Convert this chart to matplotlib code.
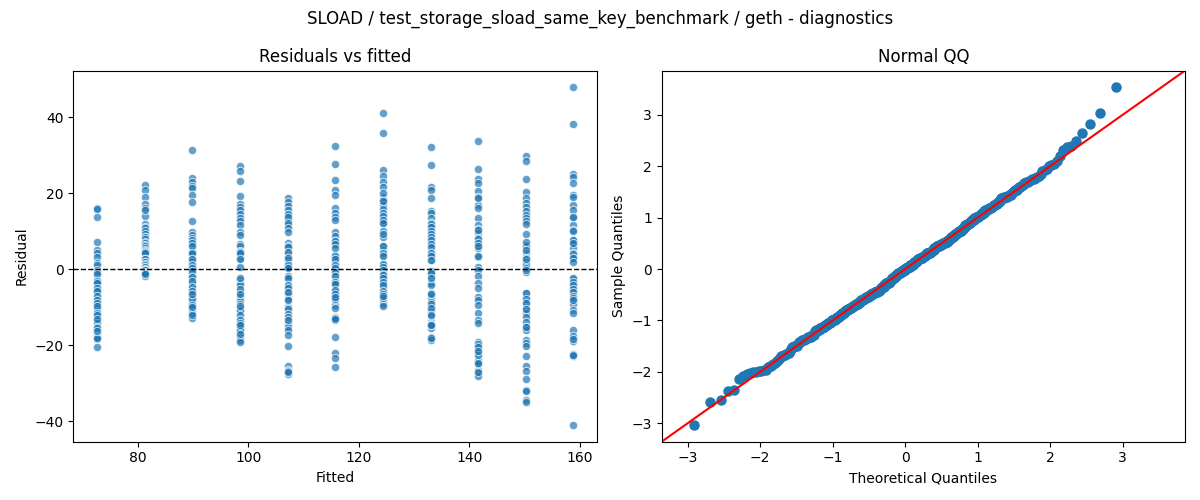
from statistics import NormalDist

import matplotlib

matplotlib.use("Agg")
import matplotlib.pyplot as plt
import numpy as np

TITLE = "SLOAD / test_storage_sload_same_key_benchmark / geth - diagnostics"

# fitted value of each group and the residuals
fitted_levels = [72.6, 81.2, 89.8, 98.5, 107.1, 115.7, 124.3, 133.0, 141.6, 150.2, 158.8]

resid_g01 = [16.2, 13.7, 7.1, 5.1, 4.2, 3.3, 1.6, 1.0, -0.2, -0.6, -2.8, -3.5, -5.0, -5.6, -6.8,
             -7.4, -8.2, -9.1, -9.8, -10.7, -11.6, -12.5, -13.3, -13.8, -15.5, -16.0, -17.3, -17.9,
             -18.4, -20.5, 15.8, -18.0, -14.2, -10.4, -6.0, -1.2, -3.1, -3.6, -5.0, -5.6, -7.0,
             -8.2, -8.8, -9.7, -11.6, -12.1, -13.2, -15.1, -15.6, -16.2]
resid_g02 = [22.2, 20.9, 19.1, 14.0, 11.9, 11.2, 10.2, 9.5, 8.4, 7.3, 5.5, 2.9, 2.0, 1.1, 0.3,
             -0.6, -1.7, 17.2, 16.2, 15.7, 10.8, 10.0, 9.2, 8.6, 8.4, 7.9, 7.3, 7.0, 6.4, 6.1,
             5.6, 5.2, 4.8, 4.6, 4.2, 2.8, 2.6, 2.0, 1.8, 1.3, 1.1, 0.6, 0.5, 0.1, -0.2, -0.3,
             -0.7, -1.0, -1.1, -1.3]
resid_g03 = [31.4, 24.1, 23.0, 21.9, 21.3, 19.6, 17.6, 12.7, 9.9, 9.0, 8.2, 7.3, 6.4, 4.9, 4.0,
             2.6, 2.0, 0.7, -0.2, -1.0, -1.8, -3.5, -4.6, -5.4, -6.3, -7.4, -9.8, -10.5, -11.1,
             -12.9, -8.8, -10.2, -11.4, -12.0, -7.8, 7.6, 6.9, 6.2, 4.4, 2.6, 1.0, 0.2, -0.5,
             -2.0, -3.2, -4.7, -5.6, -6.6, -9.3, -9.9]
resid_g04 = [27.3, 25.9, 23.2, 19.3, 17.2, 16.3, 15.6, 14.6, 13.4, 12.6, 11.7, 9.9, 9.1, 6.7, 6.0,
             4.9, 3.8, 2.9, 0.7, -2.8, -3.5, -4.2, -6.1, -7.4, -8.4, -9.1, -10.3, -11.0, -13.3,
             -14.7, -15.5, -16.4, -17.3, -17.9, -18.6, -19.3, -16.0, -17.0, -10.8, -9.6, 4.6, 4.2,
             2.6, -2.4, -5.2, -6.4, -12.0, -13.4, -14.1, -14.6]
resid_g05 = [18.9, 17.8, 16.7, 15.6, 14.3, 13.0, 11.7, 7.0, 6.2, 4.2, 3.3, 2.5, 1.6, 0.7, -2.6,
             -4.7, -5.9, -6.8, -7.9, -10.0, -10.5, -14.2, -15.1, -16.1, -17.3, -20.2, -25.6, -26.5,
             -27.5, 14.6, 13.8, 12.1, 10.9, 9.8, 5.9, 4.6, 3.0, 1.0, 0.2, -1.8, -2.4, -4.2, -5.0,
             -5.9, -8.2, -11.7, -12.5, -13.3, -26.9, -27.2]
resid_g06 = [32.5, 27.7, 23.5, 20.9, 19.6, 16.1, 14.9, 13.7, 13.0, 9.9, 8.8, 7.5, 6.4, 3.8, 2.9,
             2.0, 0.9, -0.2, -1.5, -2.8, -3.7, -5.6, -6.3, -7.6, -9.4, -12.6, -13.3, -17.9, -22.1,
             -23.4, -25.8, -12.9, -13.0, -6.0, -7.9, 7.5, 6.6, 5.6, 3.5, 2.6, 1.2, 0.3, -0.6,
             -1.8, -3.4, -4.0, -5.4, -6.5, -7.2, -10.3]
resid_g07 = [41.1, 35.8, 26.1, 24.6, 23.1, 21.8, 19.0, 18.2, 16.9, 15.8, 13.0, 12.1, 8.4, 6.0, 5.1,
             3.8, 1.1, 0.3, -1.0, -2.4, -3.5, -4.6, -5.9, -6.5, -8.5, -9.1, -9.8, 20.2, 18.0, 14.9,
             14.0, 13.0, 12.2, 10.1, 9.2, 6.1, 4.4, 3.6, 1.3, 0.6, -0.2, -1.2, -1.6, -2.4, -3.3,
             -4.2, -5.6, -6.4, -7.5, -7.0]
resid_g08 = [32.1, 27.4, 21.8, 20.9, 18.9, 15.4, 14.7, 13.4, 12.1, 11.1, 9.0, 6.8, 4.6, 3.8, 2.5,
             -1.0, -1.9, -3.5, -4.1, -7.6, -8.5, -11.1, -12.3, -14.0, -15.5, -17.9, -18.6, -18.0,
             -14.3, 12.0, 11.2, 10.2, 9.3, 8.4, 7.7, 6.7, 5.9, 4.2, 3.4, 2.5, -0.4, -1.1, -2.2,
             -6.3, -6.5, -9.2, -10.2, -12.0, -14.6, -14.6]
resid_g09 = [33.7, 26.3, 23.7, 22.8, 20.7, 16.9, 16.1, 13.4, 11.7, 10.5, 9.5, 8.2, 7.3, 6.4, 5.5,
             3.3, 0.7, -0.2, -1.8, -3.5, -5.0, -7.2, -8.1, -9.4, -11.4, -13.5, -14.2, -19.3, -20.2,
             -21.1, -22.1, -24.0, -24.3, -26.5, -27.4, -28.1, 19.1, 18.7, 10.3, 8.0, 7.0, 6.2,
             3.5, -19.6, -20.6, -22.6, -27.0, -25.0, -24.6, -21.5]
resid_g10 = [29.8, 28.5, 23.9, 20.4, 18.7, 17.5, 16.4, 15.4, 14.3, 9.3, 6.4, 6.0, 4.2, 2.9, 1.8,
             1.1, -0.6, -6.3, -7.2, -8.5, -10.5, -11.6, -12.6, -13.8, -15.1, -16.0, -18.6, -19.5,
             -20.2, -22.8, -25.6, -26.7, -28.9, -31.9, -34.4, -35.1, 13.6, 12.7, 11.8, 7.1, 5.0,
             2.8, 0.4, -0.2, -6.2, -7.9, -8.9, -10.6, -32.2, -15.2]
resid_g11 = [47.9, 38.4, 25.1, 24.2, 22.6, 19.6, 16.9, 13.7, 11.7, 10.4, 7.7, 6.7, 5.6, 4.2, 3.3,
             2.9, -2.6, -3.5, -4.7, -5.9, -7.0, -8.2, -9.1, -10.7, -11.6, -16.1, -18.8, -22.3,
             -22.8, -41.0, -22.6, 19.0, 15.5, 13.9, 10.1, 7.7, 7.0, 4.0, 3.0, 1.9, -2.4, -3.4,
             -4.2, -5.2, -6.1, -7.0, -7.7, -8.2, -17.6, -18.5]

residual_groups = [resid_g01, resid_g02, resid_g03, resid_g04, resid_g05, resid_g06,
                   resid_g07, resid_g08, resid_g09, resid_g10, resid_g11]


def main() -> None:
    fitted = np.concatenate([[f] * len(g) for f, g in zip(fitted_levels, residual_groups)])
    resid = np.concatenate([np.asarray(g, dtype=float) for g in residual_groups])

    fig, (ax_res, ax_qq) = plt.subplots(1, 2, figsize=(12, 5))

    ax_res.scatter(fitted, resid, s=36, alpha=0.7, edgecolors="white", linewidths=0.75)
    ax_res.axhline(0, color="black", linestyle="--", linewidth=1)
    ax_res.set_title("Residuals vs fitted")
    ax_res.set_xlabel("Fitted")
    ax_res.set_ylabel("Residual")

    # normal QQ of the standardised residuals, 45 degree reference line
    sample = np.sort((resid - resid.mean()) / resid.std())
    n = len(sample)
    dist = NormalDist()
    theoretical = np.array([dist.inv_cdf(i / (n + 1)) for i in range(1, n + 1)])
    ax_qq.plot(theoretical, sample, "o", color="C0", markersize=6.5)
    lo = min(ax_qq.get_xlim()[0], ax_qq.get_ylim()[0])
    hi = max(ax_qq.get_xlim()[1], ax_qq.get_ylim()[1])
    ax_qq.plot([lo, hi], [lo, hi], color="red", linewidth=1.5)
    ax_qq.set_xlim(lo, hi)
    ax_qq.set_ylim(lo, hi)
    ax_qq.set_title("Normal QQ")
    ax_qq.set_xlabel("Theoretical Quantiles")
    ax_qq.set_ylabel("Sample Quantiles")

    fig.suptitle(TITLE)
    fig.tight_layout()
    fig.savefig("out.png", dpi=100)
    plt.close(fig)


if __name__ == "__main__":
    main()
